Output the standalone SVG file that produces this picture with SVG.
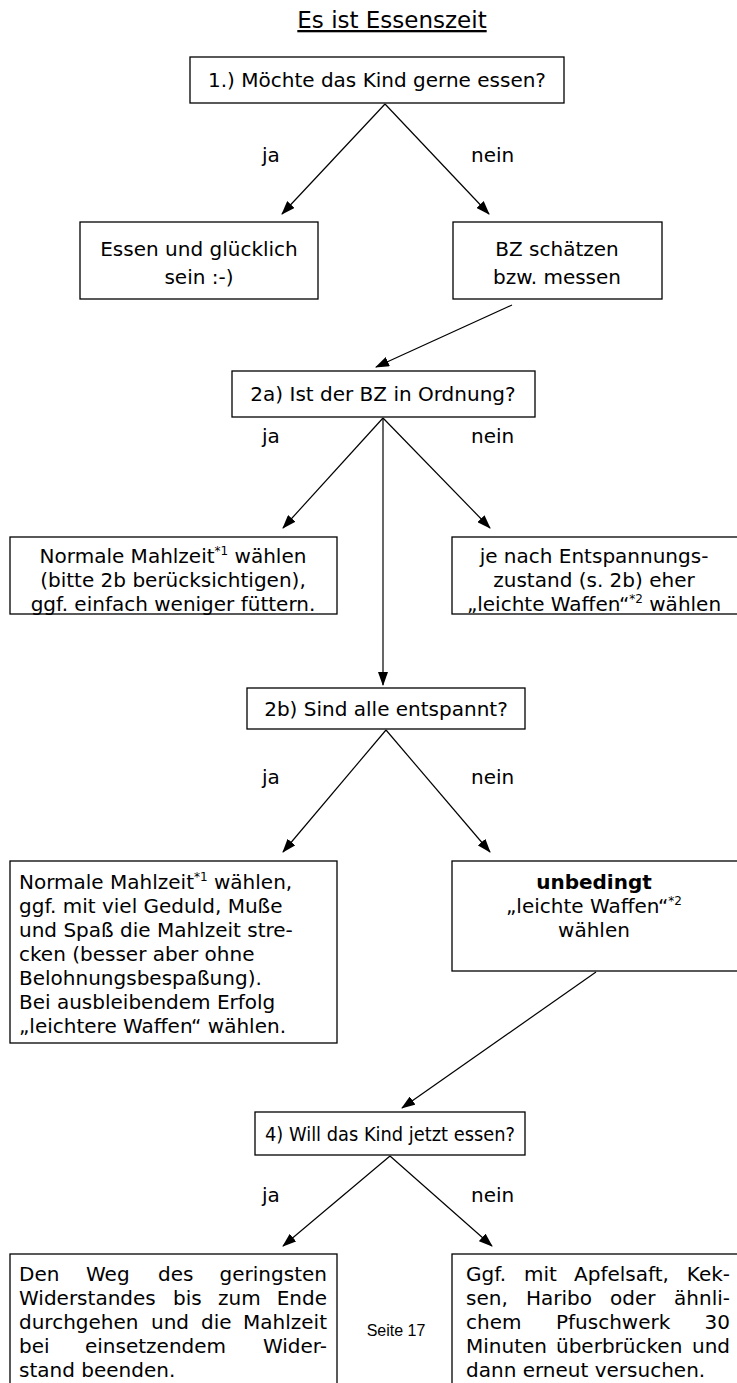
<svg xmlns="http://www.w3.org/2000/svg" width="737" height="1383" viewBox="0 0 737 1383">
<style>
  text { font-family: "DejaVu Sans", Verdana, sans-serif; font-size: 20px; fill: #000; }
  .c { text-anchor: middle; }
  .e { text-anchor: end; }
  .box { fill: #fff; stroke: #000; stroke-width: 1.3; }
  .ln { stroke: #000; stroke-width: 1.2; fill: none; }
  .ar { marker-end: url(#ah); }
  .sup { font-size: 12px; }
  .pg { font-family: "Liberation Sans", Arial, sans-serif; font-size: 16px; }
  .ttl { font-size: 23px; }
</style>
<defs>
  <marker id="ah" markerWidth="14" markerHeight="10" refX="13" refY="5" orient="auto" markerUnits="userSpaceOnUse">
    <path d="M0,0 L14,5 L0,10 Z" fill="#000"/>
  </marker>
</defs>
<rect width="737" height="1383" fill="#fff"/>

<g id="title">
  <text x="392" y="28" class="c ttl" text-decoration="underline">Es ist Essenszeit</text>
</g>

<g id="connectors">
  <line class="ln ar" x1="385" y1="104" x2="282" y2="214"/>
  <line class="ln ar" x1="385" y1="104" x2="489" y2="214"/>
  <line class="ln ar" x1="512" y1="305" x2="376" y2="367"/>
  <line class="ln ar" x1="383" y1="418" x2="283" y2="528"/>
  <line class="ln ar" x1="383" y1="418" x2="490" y2="528"/>
  <line class="ln ar" x1="383" y1="418" x2="383" y2="685"/>
  <line class="ln ar" x1="386" y1="730" x2="283" y2="852"/>
  <line class="ln ar" x1="386" y1="730" x2="490" y2="852"/>
  <line class="ln ar" x1="596" y1="972" x2="402" y2="1108"/>
  <line class="ln ar" x1="390" y1="1156" x2="283" y2="1246"/>
  <line class="ln ar" x1="390" y1="1156" x2="492" y2="1246"/>
  <text x="262" y="162">ja</text>
  <text x="471" y="162">nein</text>
  <text x="262" y="443">ja</text>
  <text x="471" y="443">nein</text>
  <text x="262" y="784">ja</text>
  <text x="471" y="784">nein</text>
  <text x="262" y="1202">ja</text>
  <text x="471" y="1202">nein</text>
</g>

<g id="n1">
  <rect class="box" x="190" y="57" width="374" height="46"/>
  <text x="377" y="87" class="c">1.) Möchte das Kind gerne essen?</text>
</g>

<g id="n-essen">
  <rect class="box" x="80" y="222" width="238" height="77"/>
  <text x="199" y="256" class="c">Essen und glücklich</text>
  <text x="199" y="284" class="c">sein :-)</text>
</g>

<g id="n-bz">
  <rect class="box" x="453" y="222" width="209" height="77"/>
  <text x="557" y="256" class="c">BZ schätzen</text>
  <text x="557" y="284" class="c">bzw. messen</text>
</g>

<g id="n2a">
  <rect class="box" x="232" y="371" width="303" height="46"/>
  <text x="383" y="401" class="c">2a) Ist der BZ in Ordnung?</text>
</g>

<g id="n-normal1">
  <rect class="box" x="10" y="537" width="327" height="77"/>
  <text x="173" y="563" class="c">Normale Mahlzeit<tspan class="sup" dy="-8">*1</tspan><tspan dy="8"> wählen</tspan></text>
  <text x="173" y="587" class="c">(bitte 2b berücksichtigen),</text>
  <text x="173" y="611" class="c">ggf. einfach weniger füttern.</text>
</g>

<g id="n-leicht1">
  <rect class="box" x="452" y="537" width="295" height="77"/>
  <text x="594" y="563" class="c">je nach Entspannungs-</text>
  <text x="594" y="587" class="c">zustand (s. 2b) eher</text>
  <text x="594" y="611" class="c">„leichte Waffen“<tspan class="sup" dy="-8">*2</tspan><tspan dy="8"> wählen</tspan></text>
</g>

<g id="n2b">
  <rect class="box" x="247" y="688" width="278" height="41"/>
  <text x="386" y="716" class="c">2b) Sind alle entspannt?</text>
</g>

<g id="n-normal2">
  <rect class="box" x="10" y="861" width="327" height="182"/>
  <text x="19" y="889">Normale Mahlzeit<tspan class="sup" dy="-8">*1</tspan><tspan dy="8"> wählen,</tspan></text>
  <text x="19" y="913">ggf. mit viel Geduld, Muße</text>
  <text x="19" y="937">und Spaß die Mahlzeit stre-</text>
  <text x="19" y="961">cken (besser aber ohne</text>
  <text x="19" y="985">Belohnungsbespaßung).</text>
  <text x="19" y="1009">Bei ausbleibendem Erfolg</text>
  <text x="19" y="1033">„leichtere Waffen“ wählen.</text>
</g>

<g id="n-unbedingt">
  <rect class="box" x="452" y="861" width="295" height="110"/>
  <text x="594" y="889" class="c" font-weight="bold">unbedingt</text>
  <text x="594" y="913" class="c">„leichte Waffen“<tspan class="sup" dy="-8">*2</tspan></text>
  <text x="594" y="937" class="c">wählen</text>
</g>

<g id="n4">
  <rect class="box" x="255" y="1112" width="270" height="43"/>
  <text x="390" y="1141" class="c" textLength="250" lengthAdjust="spacingAndGlyphs">4) Will das Kind jetzt essen?</text>
</g>

<g id="n-ja4">
  <rect class="box" x="10" y="1254" width="327" height="140"/>
  <text y="1281"><tspan x="19">Den</tspan><tspan x="86">Weg</tspan><tspan x="158">des</tspan></text>
  <text y="1281" x="327" class="e">geringsten</text>
  <text y="1305"><tspan x="19">Widerstandes</tspan><tspan x="173">bis</tspan><tspan x="218">zum</tspan></text>
  <text y="1305" x="327" class="e">Ende</text>
  <text y="1329"><tspan x="19">durchgehen</tspan><tspan x="151">und</tspan><tspan x="201">die</tspan></text>
  <text y="1329" x="327" class="e">Mahlzeit</text>
  <text y="1353"><tspan x="19">bei</tspan><tspan x="85">einsetzendem</tspan></text>
  <text y="1353" x="327" class="e">Wider-</text>
  <text y="1377" x="19">stand beenden.</text>
</g>

<g id="n-nein4">
  <rect class="box" x="452" y="1254" width="295" height="140"/>
  <text y="1281"><tspan x="466">Ggf.</tspan><tspan x="524">mit</tspan><tspan x="574">Apfelsaft,</tspan></text>
  <text y="1281" x="730" class="e">Kek-</text>
  <text y="1305"><tspan x="466">sen,</tspan><tspan x="526">Haribo</tspan><tspan x="610">oder</tspan></text>
  <text y="1305" x="730" class="e">ähnli-</text>
  <text y="1329"><tspan x="466">chem</tspan><tspan x="556">Pfuschwerk</tspan></text>
  <text y="1329" x="730" class="e">30</text>
  <text y="1353"><tspan x="466">Minuten</tspan><tspan x="556">überbrücken</tspan></text>
  <text y="1353" x="730" class="e">und</text>
  <text y="1377" x="466">dann erneut versuchen.</text>
</g>

<g id="footer">
  <text x="396" y="1336" class="c pg">Seite 17</text>
</g>
</svg>
